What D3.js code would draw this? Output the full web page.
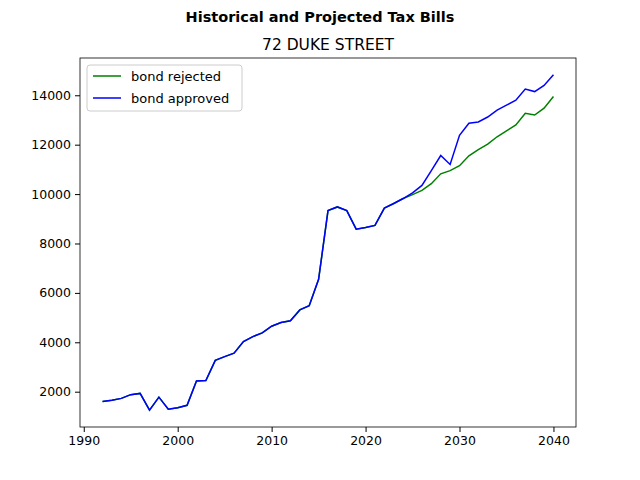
<!DOCTYPE html><html><head><script src="https://cdn.jsdelivr.net/npm/d3@7"></script>
<style>body{margin:0;background:#fff}text{font-family:"DejaVu Sans",sans-serif}</style></head><body><svg width="640" height="480"></svg>
<script>
const years = d3.range(1992, 2041);
const approved = [1600,1650,1730,1880,1930,1250,1780,1290,1350,1450,2430,2450,3270,3420,3560,4030,4230,4380,4650,4800,4870,5310,5480,6550,9330,9480,9330,8580,8650,8730,9430,9620,9820,10050,10350,10950,11560,11200,12380,12870,12920,13120,13400,13600,13800,14250,14150,14400,14830];
const rejected = [1600,1650,1730,1880,1930,1250,1780,1290,1350,1450,2430,2450,3270,3420,3560,4030,4230,4380,4650,4800,4870,5310,5480,6550,9330,9480,9330,8580,8650,8730,9430,9620,9820,9980,10150,10420,10820,10950,11150,11550,11800,12020,12320,12560,12800,13270,13200,13480,13950];
const svg = d3.select("svg");
const L=80,R=576,T=58,B=427;
const x=d3.scaleLinear().domain([1989.6,2042.4]).range([L,R]);
const y=d3.scaleLinear().domain([571,15509]).range([B,T]);
const ax=svg.append("g").attr("transform",`translate(0,${B})`).call(d3.axisBottom(x).tickValues([1990,2000,2010,2020,2030,2040]).tickFormat(d3.format("d")).tickSizeOuter(0).tickSize(5).tickPadding(4));
const ay=svg.append("g").attr("transform",`translate(${L},0)`).call(d3.axisLeft(y).tickValues([2000,4000,6000,8000,10000,12000,14000]).tickFormat(d3.format("d")).tickSizeOuter(0).tickSize(5).tickPadding(4));
[ax,ay].forEach(a=>{a.attr("font-size",12.5).attr("font-family","DejaVu Sans");a.select(".domain").remove();});
svg.selectAll(".tick text").attr("fill","#000");
svg.append("rect").attr("x",L).attr("y",T).attr("width",R-L).attr("height",B-T).attr("fill","none").attr("stroke","#000").attr("stroke-width",0.8);
const line=arr=>d3.line().x((d,i)=>x(years[i])).y(d=>y(d))(arr);
svg.append("path").attr("d",line(rejected)).attr("fill","none").attr("stroke","green").attr("stroke-width",1.5);
svg.append("path").attr("d",line(approved)).attr("fill","none").attr("stroke","blue").attr("stroke-width",1.5);
svg.append("text").attr("x",320).attr("y",22).attr("text-anchor","middle").attr("font-size",14.5).attr("font-weight","bold").text("Historical and Projected Tax Bills");
svg.append("text").attr("x",328).attr("y",50).attr("text-anchor","middle").attr("font-size",15.5).text("72 DUKE STREET");
const lg=svg.append("g");
lg.append("rect").attr("x",87).attr("y",65).attr("width",155).attr("height",46).attr("rx",3).attr("fill","#fff").attr("stroke","#ccc");
[["bond rejected","green"],["bond approved","blue"]].forEach((d,i)=>{
  lg.append("line").attr("x1",93).attr("x2",121).attr("y1",76+i*22).attr("y2",76+i*22).attr("stroke",d[1]).attr("stroke-width",1.5);
  lg.append("text").attr("x",131).attr("y",80.5+i*22).attr("font-size",13).text(d[0]);
});
</script></body></html>
